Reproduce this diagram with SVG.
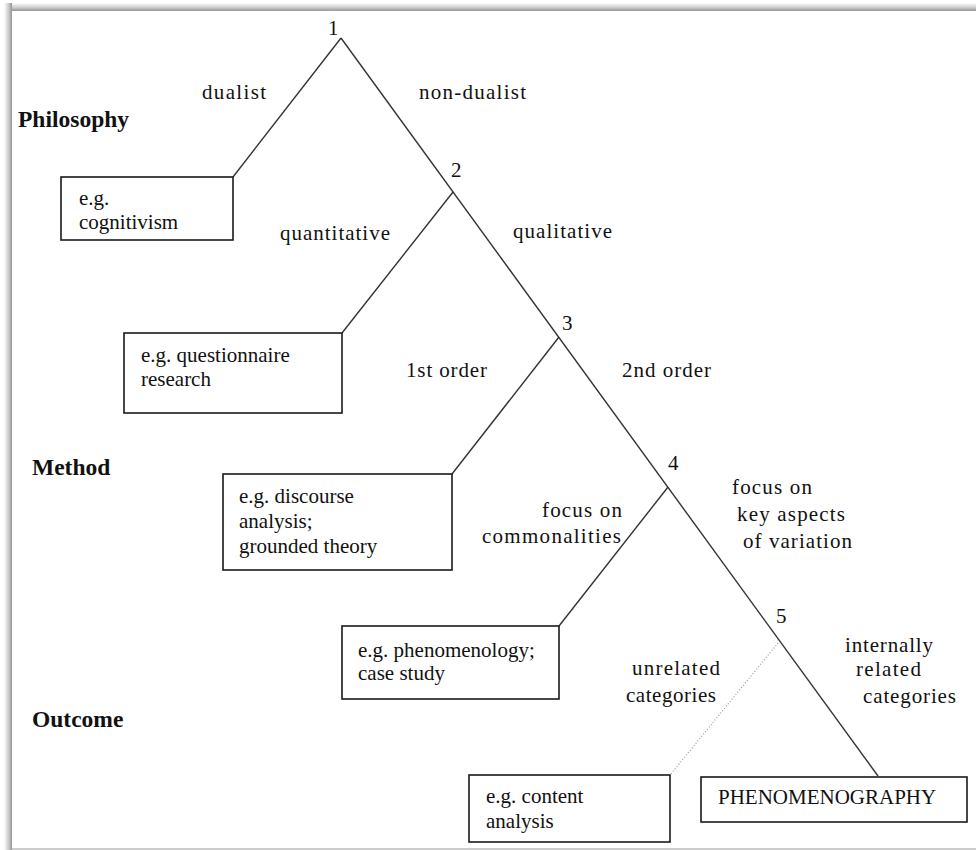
<svg xmlns="http://www.w3.org/2000/svg" width="976" height="850" viewBox="0 0 976 850" font-family="'Liberation Serif', 'DejaVu Serif', serif">
  <defs>
    <linearGradient id="shadeTop" x1="0" y1="0" x2="0" y2="1">
      <stop offset="0" stop-color="#ffffff"/>
      <stop offset="0.6" stop-color="#c8c8c8"/>
      <stop offset="1" stop-color="#959595"/>
    </linearGradient>
    <linearGradient id="shadeLeft" x1="0" y1="0" x2="1" y2="0">
      <stop offset="0" stop-color="#ffffff"/>
      <stop offset="0.6" stop-color="#c8c8c8"/>
      <stop offset="1" stop-color="#959595"/>
    </linearGradient>
    <style>
      .box { fill: #ffffff; stroke: #1a1a1a; stroke-width: 1.6; }
      .edge { stroke: #333333; stroke-width: 1.4; fill: none; }
      .dots { stroke: #9a9a9a; stroke-width: 1.2; stroke-dasharray: 1 2; fill: none; }
      text { font-size: 21px; fill: #111111; }
      .head { font-weight: bold; font-size: 23.5px; }
    </style>
  </defs>

  <!-- page background and shaded frame -->
  <rect x="0" y="0" width="976" height="850" fill="#ffffff"/>
  <rect x="4" y="3" width="972" height="8" fill="url(#shadeTop)"/>
  <rect x="4" y="3" width="8" height="847" fill="url(#shadeLeft)"/>
  <line x1="12" y1="849" x2="976" y2="849" stroke="#9a9a9a" stroke-width="1.2"/>

  <!-- level headings -->
  <g id="headings">
    <text class="head" x="18" y="127">Philosophy</text>
    <text class="head" x="32" y="475">Method</text>
    <text class="head" x="32" y="727">Outcome</text>
  </g>

  <!-- connectors -->
  <g id="connectors">
    <line class="edge" x1="341" y1="38" x2="878" y2="776"/>
    <line class="edge" x1="341" y1="38" x2="233" y2="177"/>
    <line class="edge" x1="453" y1="192" x2="342" y2="333"/>
    <line class="edge" x1="559" y1="337" x2="452" y2="474"/>
    <line class="edge" x1="668" y1="487" x2="559" y2="626"/>
    <line class="dots" x1="778" y1="643" x2="670" y2="775"/>
  </g>

  <!-- branch point numbers -->
  <g id="node-1"><text x="328" y="35">1</text></g>
  <g id="node-2"><text x="451" y="177">2</text></g>
  <g id="node-3"><text x="562" y="330">3</text></g>
  <g id="node-4"><text x="668" y="470">4</text></g>
  <g id="node-5"><text x="776" y="623">5</text></g>

  <!-- branch labels -->
  <g id="branch-labels">
    <text x="202" y="99" textLength="64" lengthAdjust="spacing">dualist</text>
    <text x="419" y="99" textLength="107" lengthAdjust="spacing">non-dualist</text>
    <text x="280" y="240" textLength="110" lengthAdjust="spacing">quantitative</text>
    <text x="513" y="238" textLength="99" lengthAdjust="spacing">qualitative</text>
    <text x="406" y="377" textLength="81" lengthAdjust="spacing">1st order</text>
    <text x="622" y="377" textLength="89" lengthAdjust="spacing">2nd order</text>
    <text x="542" y="517" textLength="80" lengthAdjust="spacing">focus on</text>
    <text x="482" y="543" textLength="139" lengthAdjust="spacing">commonalities</text>
    <text x="732" y="494" textLength="80" lengthAdjust="spacing">focus on</text>
    <text x="737" y="521" textLength="108" lengthAdjust="spacing">key aspects</text>
    <text x="743" y="548" textLength="109" lengthAdjust="spacing">of variation</text>
    <text x="632" y="675" textLength="88" lengthAdjust="spacing">unrelated</text>
    <text x="626" y="702" textLength="90" lengthAdjust="spacing">categories</text>
    <text x="845" y="652" textLength="88" lengthAdjust="spacing">internally</text>
    <text x="856" y="676" textLength="65" lengthAdjust="spacing">related</text>
    <text x="863" y="703" textLength="93" lengthAdjust="spacing">categories</text>
  </g>

  <!-- example boxes -->
  <g id="box-cognitivism">
    <rect class="box" x="61" y="177" width="172" height="63"/>
    <text x="79" y="205">e.g.</text>
    <text x="79" y="229">cognitivism</text>
  </g>
  <g id="box-questionnaire">
    <rect class="box" x="124" y="333" width="218" height="80"/>
    <text x="141" y="362">e.g. questionnaire</text>
    <text x="141" y="386">research</text>
  </g>
  <g id="box-discourse">
    <rect class="box" x="223" y="474" width="229" height="96"/>
    <text x="239" y="503">e.g. discourse</text>
    <text x="239" y="528">analysis;</text>
    <text x="239" y="553">grounded theory</text>
  </g>
  <g id="box-phenomenology">
    <rect class="box" x="342" y="626" width="217" height="73"/>
    <text x="358" y="657">e.g. phenomenology;</text>
    <text x="358" y="680">case study</text>
  </g>
  <g id="box-content">
    <rect class="box" x="469" y="775" width="201" height="67"/>
    <text x="486" y="803">e.g. content</text>
    <text x="486" y="828">analysis</text>
  </g>
  <g id="box-phenomenography">
    <rect class="box" x="701" y="777" width="266" height="45"/>
    <text x="718" y="804">PHENOMENOGRAPHY</text>
  </g>
</svg>
